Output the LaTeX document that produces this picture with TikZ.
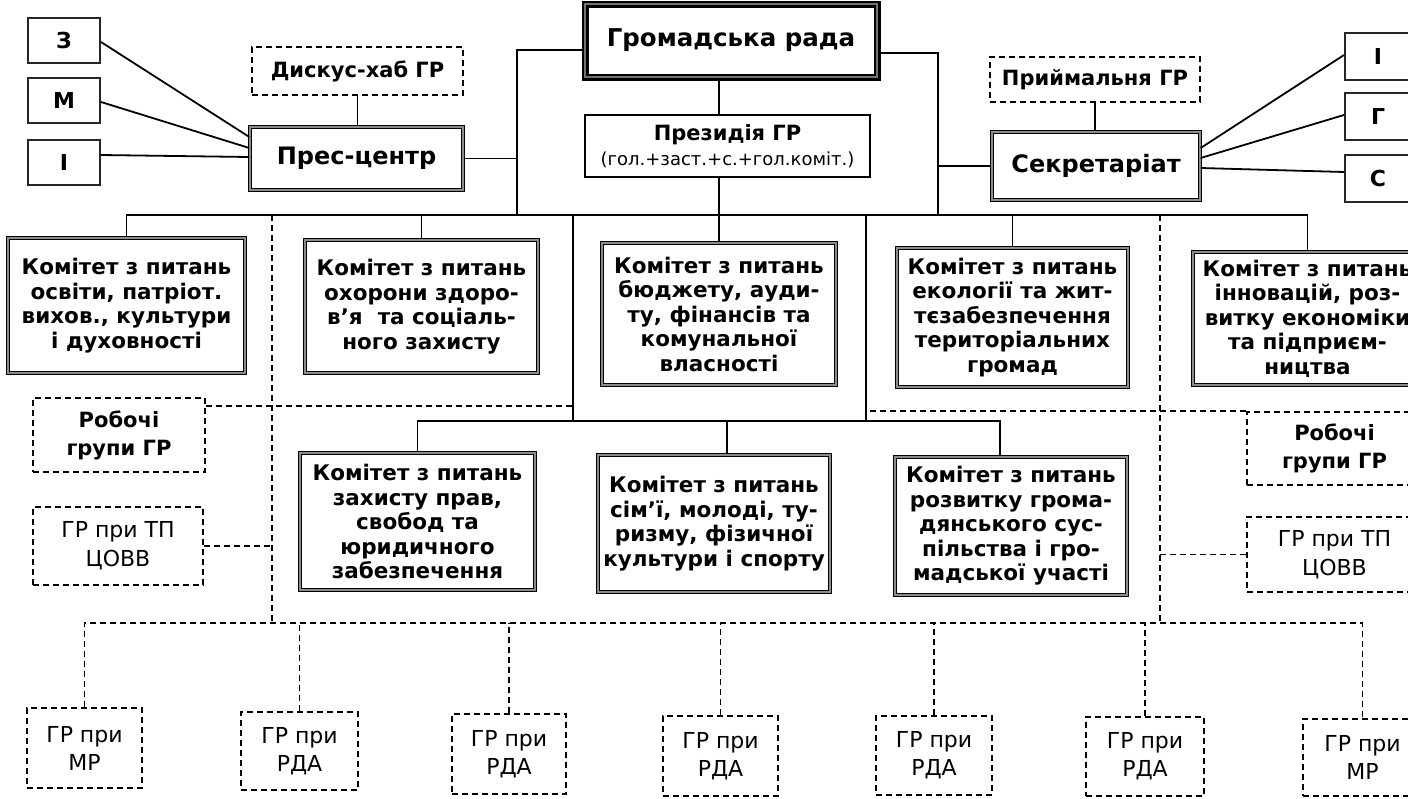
\documentclass[tikz,border=0pt]{standalone}
\usepackage{fontspec}
\setmainfont{DejaVu Sans}
\usetikzlibrary{calc}
\newcommand\fntCom{\fontsize{21.5}{24.5}\selectfont\bfseries}
\newcommand\fntBig{\fontsize{24}{27}\selectfont\bfseries}
\newcommand\fntHr{\fontsize{24.5}{27}\selectfont\bfseries}
\newcommand\fntMid{\fontsize{21}{25}\selectfont\bfseries}
\newcommand\fntRob{\fontsize{21}{28}\selectfont\bfseries}
\newcommand\fntReg{\fontsize{22}{29}\selectfont}
\newcommand\fntBot{\fontsize{22}{28}\selectfont}
\newcommand\fntSmall{\fontsize{18}{20}\selectfont\mdseries}
\newcommand\fntLet{\fontsize{22}{24}\selectfont\bfseries}
\newcommand\mybox[8]{\node[#2, minimum width={(#5)-(#3)}, minimum height={(#6)-(#4)}, font={#7}] (#1) at ({((#3)+(#5))/2},{((#4)+(#6))/2}) {#8};}
\tikzset{
  base/.style={inner sep=0pt, align=center, fill=white},
  comm/.style={base, draw=black, line width=1.2pt, double=black!45, double distance=1.8pt},
  pbx/.style={base, draw=black, line width=1.3pt, double=black!45, double distance=2.2pt},
  hbx/.style={base, draw=black, line width=2.2pt, double=black!55, double distance=2.6pt},
  prx/.style={base, draw=black, line width=2.8pt},
  lbox/.style={base, draw=black!85, line width=2pt},
  dbox/.style={base, draw=black, line width=1.8pt, dash pattern=on 6pt off 4pt},
  conn/.style={draw=black, line width=1.8pt},
  dconn/.style={draw=black, line width=1.8pt, dash pattern=on 6pt off 4pt}
}
\begin{document}
\begin{tikzpicture}[x=1pt,y=-1pt]
\useasboundingbox (0,0) rectangle (1408,798);
\fill[white] (0,0) rectangle (1408,798);
% top left
\mybox{z}{lbox}{28}{18}{100}{63}{\fntLet}{З}
\mybox{m}{lbox}{28}{78}{100}{123}{\fntLet}{М}
\mybox{i}{lbox}{28}{140}{100}{185}{\fntLet}{І}
\mybox{dh}{dbox}{252}{47}{463}{95}{\fntMid}{Дискус-хаб ГР}
\mybox{pc}{pbx}{250}{127}{463}{190}{\fntBig}{Прес-центр}
% centre
\mybox{hr}{hbx}{585}{4}{877}{77}{\fntHr}{Громадська рада}
\mybox{pr}{prx}{585}{115}{870}{177}{\fntMid}{Президія ГР\\{\fntSmall(гол.+заст.+с.+гол.коміт.)}}
% top right
\mybox{pm}{dbox}{990}{57}{1200}{102}{\fntMid}{Приймальня ГР}
\mybox{sk}{pbx}{992}{132}{1200}{200}{\fntBig}{Секретаріат}
\mybox{ir}{lbox}{1345}{33}{1411}{80}{\fntLet}{І}
\mybox{gr}{lbox}{1345}{93}{1411}{140}{\fntLet}{Г}
\mybox{sr}{lbox}{1345}{155}{1411}{202}{\fntLet}{С}
% committees row 1
\mybox{c1}{comm}{8}{238}{245}{373}{\fntCom}{Комітет з питань\\освіти, патріот.\\вихов., культури\\і духовності}
\mybox{c2}{comm}{305}{240}{538}{373}{\fntCom}{Комітет з питань\\охорони здоро-\\в’я\ \ та соціаль-\\ного захисту}
\mybox{c3}{comm}{602}{243}{836}{385}{\fntCom}{Комітет з питань\\бюджету, ауди-\\ту, фінансів та\\комунальної\\власності}
\mybox{c4}{comm}{897}{248}{1128}{387}{\fntCom}{Комітет з питань\\екології та жит-\\тєзабезпечення\\територіальних\\громад}
\mybox{c5}{comm}{1193}{252}{1422}{385}{\fntCom}{Комітет з питань\\інновацій, роз-\\витку економіки\\та підприєм-\\ництва}
% committees row 2
\mybox{c6}{comm}{300}{453}{535}{590}{\fntCom}{Комітет з питань\\захисту прав,\\свобод та\\юридичного\\забезпечення}
\mybox{c7}{comm}{598}{455}{830}{592}{\fntCom}{Комітет з питань\\сім’ї, молоді, ту-\\ризму, фізичної\\культури і спорту}
\mybox{c8}{comm}{895}{457}{1127}{595}{\fntCom}{Комітет з питань\\розвитку грома-\\дянського сус-\\пільства і гро-\\мадської участі}
% side dashed boxes
\mybox{robL}{dbox}{33}{398}{205}{472}{\fntRob}{Робочі\\групи ГР}
\mybox{tpL}{dbox}{33}{507}{203}{585}{\fntReg}{ГР при ТП\\ЦОВВ}
\mybox{robR}{dbox}{1247}{412}{1422}{485}{\fntRob}{Робочі\\групи ГР}
\mybox{tpR}{dbox}{1247}{517}{1422}{592}{\fntReg}{ГР при ТП\\ЦОВВ}
% bottom boxes
\mybox{b1}{dbox}{27}{708}{142}{788}{\fntBot}{ГР при\\МР}
\mybox{b2}{dbox}{241}{712}{358}{790}{\fntBot}{ГР при\\РДА}
\mybox{b3}{dbox}{452}{714}{566}{794}{\fntBot}{ГР при\\РДА}
\mybox{b4}{dbox}{663}{716}{778}{796}{\fntBot}{ГР при\\РДА}
\mybox{b5}{dbox}{876}{716}{992}{795}{\fntBot}{ГР при\\РДА}
\mybox{b6}{dbox}{1086}{717}{1204}{796}{\fntBot}{ГР при\\РДА}
\mybox{b7}{dbox}{1303}{719}{1422}{796}{\fntBot}{ГР при\\МР}
% coordinates
\coordinate (lv) at (517,215);
\coordinate (rv) at (938,215);
\coordinate (fl) at (573,421);
\coordinate (fr) at (866,421);
\coordinate (dlt) at (272,215);
\coordinate (dlb) at (272,623);
\coordinate (drt) at (1160,215);
\coordinate (drb) at (1160,623);
\coordinate (c7t) at ([xshift=13pt]c7.north);
\coordinate (c8t) at ([xshift=-11pt]c8.north);
\coordinate (rl) at ([yshift=-9pt]robL.north east);
% solid connectors top
\draw[conn] ([yshift=-1.5pt]z.east) -- ([yshift=21.5pt]pc.west);
\draw[conn] ([yshift=-1.5pt]m.east) -- ([yshift=10.5pt]pc.west);
\draw[conn] ([yshift=7.5pt]i.east) -- ([yshift=1.5pt]pc.west);
\draw[conn] (dh.south) -- (dh.south |- pc.north);
\draw[conn] (pm.south) -- (pm.south |- sk.north);
\draw[conn] ([yshift=18pt]sk.east) -- ([yshift=1.5pt]ir.west);
\draw[conn] ([yshift=8pt]sk.east) -- ([yshift=1.5pt]gr.west);
\draw[conn] ([yshift=-2pt]sk.east) -- ([yshift=6.5pt]sr.west);
\draw[conn] ([yshift=-9.5pt]hr.west) -| (lv);
\draw[conn] ([yshift=-12.5pt]hr.east) -| (rv);
\draw[conn] (pc.east) -- (pc.east -| lv);
\draw[conn] (sk.west) -- (sk.west -| rv);
\draw[conn] (hr.south -| c3.north) -- (pr.north -| c3.north);
\draw[conn] (pr.south -| c3.north) -- (c3.north);
% bus 1
\draw[conn] (c1.north) -- (c1.north |- lv) -- (c5.north |- lv) -- (c5.north);
\draw[conn] (c2.north) -- (c2.north |- lv);
\draw[conn] (c4.north) -- (c4.north |- lv);
\draw[conn] (fl |- lv) -- (fl);
\draw[conn] (fr |- lv) -- (fr);
% bus 2
\draw[conn] (c6.north) -- (c6.north |- fl) -- (c8t |- fl) -- (c8t);
\draw[conn] (c7t) -- (c7t |- fl);
% dashed
\draw[dconn] (dlt) -- (dlb);
\draw[dconn] (drt) -- (drb);
\draw[dconn] (rl) -- (rl -| fl);
\draw[dconn] (tpL.east) -- (tpL.east -| dlt);
\draw[dconn] (robR.north west) -- (robR.north west -| fr);
\draw[dconn] (tpR.west) -- (tpR.west -| drt);
\draw[dconn] (b1.north) -- (b1.north |- dlb) -- (b7.north |- dlb) -- (b7.north);
\foreach \k in {b2,b3,b4,b5,b6} \draw[dconn] (\k.north) -- (\k.north |- dlb);
\end{tikzpicture}
\end{document}
